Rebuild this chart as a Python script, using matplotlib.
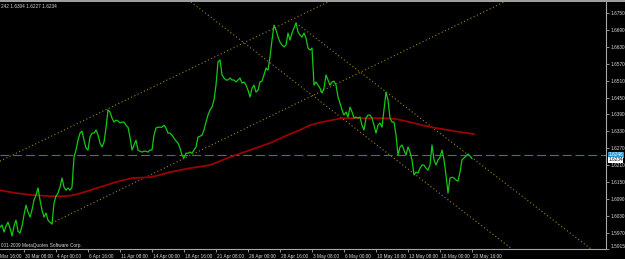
import matplotlib
matplotlib.use("Agg")
import matplotlib.pyplot as plt
from matplotlib import font_manager
from matplotlib.transforms import blended_transform_factory
from matplotlib.lines import Line2D

# ---------------- data ----------------
close_bars = list(range(0, 237))
close_prices = [
    1.5991, 1.5999, 1.5974, 1.5995, 1.6009, 1.5988, 1.5960, 1.5995, 1.6016, 1.5977,
    1.5970, 1.5995, 1.6034, 1.6069, 1.6045, 1.6027, 1.6052, 1.6087, 1.6105, 1.6130,
    1.6087, 1.6052, 1.6027, 1.6041, 1.6016, 1.6009, 1.6002, 1.6076, 1.6101, 1.6112,
    1.6133, 1.6165, 1.6133, 1.6122, 1.6130, 1.6122, 1.6133, 1.6239, 1.6264, 1.6299,
    1.6324, 1.6331, 1.6299, 1.6271, 1.6264, 1.6310, 1.6324, 1.6324, 1.6335, 1.6317,
    1.6289, 1.6275, 1.6292, 1.6342, 1.6406, 1.6399, 1.6377, 1.6363, 1.6370, 1.6367,
    1.6360, 1.6363, 1.6363, 1.6352, 1.6345, 1.6310, 1.6264, 1.6282, 1.6299, 1.6264,
    1.6260, 1.6257, 1.6260, 1.6260, 1.6257, 1.6264, 1.6264, 1.6317, 1.6342, 1.6345,
    1.6345, 1.6345, 1.6352, 1.6342, 1.6324, 1.6324, 1.6317, 1.6306, 1.6296, 1.6289,
    1.6271, 1.6246, 1.6236, 1.6253, 1.6253, 1.6257, 1.6253, 1.6264, 1.6275, 1.6310,
    1.6313, 1.6317, 1.6335, 1.6363, 1.6388, 1.6406, 1.6416, 1.6441, 1.6494, 1.6576,
    1.6583, 1.6530, 1.6519, 1.6512, 1.6512, 1.6519, 1.6512, 1.6512, 1.6505, 1.6512,
    1.6519, 1.6501, 1.6505, 1.6494, 1.6476, 1.6452, 1.6483, 1.6494, 1.6469, 1.6476,
    1.6505, 1.6508, 1.6530, 1.6554, 1.6547, 1.6593, 1.6653, 1.6706, 1.6689, 1.6664,
    1.6646, 1.6636, 1.6629, 1.6636, 1.6678, 1.6653, 1.6678, 1.6696, 1.6714, 1.6682,
    1.6671, 1.6664, 1.6678, 1.6660, 1.6625, 1.6618, 1.6625, 1.6494, 1.6505, 1.6494,
    1.6483, 1.6466, 1.6483, 1.6530, 1.6512, 1.6494, 1.6505, 1.6508, 1.6494, 1.6452,
    1.6430, 1.6406, 1.6388, 1.6399, 1.6381, 1.6416, 1.6399, 1.6377, 1.6381, 1.6377,
    1.6381, 1.6352, 1.6335, 1.6377, 1.6388, 1.6388, 1.6377, 1.6352, 1.6324, 1.6352,
    1.6360, 1.6345, 1.6406, 1.6469, 1.6441, 1.6377, 1.6363, 1.6363, 1.6317, 1.6246,
    1.6275, 1.6282, 1.6264, 1.6246, 1.6275, 1.6257, 1.6229, 1.6176, 1.6186, 1.6183,
    1.6200, 1.6211, 1.6211, 1.6200, 1.6193, 1.6211, 1.6282, 1.6229, 1.6211, 1.6229,
    1.6239, 1.6264, 1.6229, 1.6176, 1.6112, 1.6165, 1.6168, 1.6165, 1.6158, 1.6154,
    1.6186, 1.6229, 1.6236, 1.6243, 1.6250, 1.6243, 1.6234,
]

ma_bars = [0, 8, 16, 25, 33, 37, 42, 50, 58, 66, 75, 80, 85, 95, 105, 115, 125, 135,
           145, 150, 155, 161, 171, 181, 191, 198, 205, 211, 218, 224, 230, 237]
ma_prices = [1.6122, 1.6112, 1.6105, 1.6101, 1.6101, 1.6105, 1.6115, 1.6133, 1.6151,
             1.6165, 1.6168, 1.6176, 1.6186, 1.6200, 1.6211, 1.6239, 1.6264, 1.6289,
             1.6321, 1.6335, 1.6352, 1.6363, 1.6377, 1.6377, 1.6377, 1.6374, 1.6363,
             1.6352, 1.6342, 1.6335, 1.6328, 1.6321]

# channel lines: (bars, prices) anchor pairs
chan_up_upper = ([0, 164], [1.6225, 1.6788])
chan_up_lower = ([26, 252], [1.6006, 1.6788])
chan_dn_lower = ([95.5, 256], [1.6788, 1.5914])
chan_dn_upper = ([148, 295.5], [1.6714, 1.5914])

hline_price = 1.6246
hline_label = "1.6246"
last_price_label = "1.6234"

price_ticks = [1.6750, 1.6690, 1.6630, 1.6570, 1.6510, 1.6450, 1.6390, 1.6330,
               1.6270, 1.6210, 1.6150, 1.6090, 1.6030, 1.5970, 1.5915]
time_tick_bars = [-4, 12, 28, 44, 60, 76, 92, 108, 124, 140, 156, 172, 188, 204, 220, 236]
time_tick_labels = ["Mar 16:00", "30 Mar 08:00", "4 Apr 00:00", "6 Apr 16:00",
                    "11 Apr 08:00", "14 Apr 00:00", "18 Apr 16:00", "21 Apr 08:00",
                    "26 Apr 00:00", "28 Apr 16:00", "3 May 08:00", "6 May 00:00",
                    "10 May 16:00", "13 May 08:00", "18 May 00:00", "20 May 16:00"]
header_text = "242 1.6304 1.6227 1.6234"
copyright_text = "001-2009 MetaQuotes Software Corp."

# ---------------- style ----------------
names = {f.name for f in font_manager.fontManager.ttflist}
if "Liberation Sans Narrow" in names:
    FONT, FS = "Liberation Sans Narrow", 3.9
else:
    FONT, FS = "Liberation Sans", 3.4
TXT = "#d8d8d8"
AXC = "#a8a8a8"
GREEN = "#14c814"
RED = "#a00000"
GOLD = "#a08018"
BLUE = "#1a7fa8"

W, H = 625, 259
fig = plt.figure(figsize=(W / 100, H / 100), dpi=100, facecolor="black")
ax = fig.add_axes([0, 10 / H, 606 / W, 247 / H], facecolor="black")
ax.set_xlim(0, 303)
ax.set_ylim(1.5914, 1.6788)

for b, p in (chan_up_upper, chan_up_lower, chan_dn_lower, chan_dn_upper):
    ax.plot(b, p, color=GOLD, lw=0.8, ls=(0, (1, 2.2)))

ax.axhline(hline_price, color=BLUE, lw=0.8, ls=(0, (8, 3.5)))
ax.plot(ma_bars, ma_prices, color=RED, lw=1.25)
ax.plot(close_bars, close_prices, color=GREEN, lw=0.9)

# axes frame
for s in ("left", "top"):
    ax.spines[s].set_visible(False)
for s in ("right", "bottom"):
    ax.spines[s].set_color(AXC)
    ax.spines[s].set_linewidth(0.8)

ax.yaxis.tick_right()
ax.set_yticks(price_ticks)
ax.set_yticklabels([f"{v:.4f}" for v in price_ticks])
ax.tick_params(axis="y", direction="out", length=2.2, width=0.6, color=AXC,
               labelcolor=TXT, labelsize=FS, pad=0.8)
for lbl in ax.get_yticklabels():
    lbl.set_fontfamily(FONT)
# keep the lowest scale label inside the picture
ax.get_yticklabels()[-1].set_va("bottom")

inside = [b for b in time_tick_bars if b >= 0]
ax.set_xticks(inside)
ax.tick_params(axis="x", direction="out", length=2.2, width=0.6, color=AXC,
               labelbottom=False)

tr = blended_transform_factory(ax.transData, ax.transAxes)
for b, lab in zip(time_tick_bars, time_tick_labels):
    x = max(b + 0.6, 0.2)
    ax.text(x, -0.029, lab, transform=tr, ha="left", va="center", fontsize=FS,
            family=FONT, color=TXT, clip_on=False)

# price boxes on the scale
trr = blended_transform_factory(ax.transAxes, ax.transData)
ax.text(1.004, hline_price + 0.0002, hline_label, transform=trr, ha="left", va="center",
        fontsize=FS, family=FONT, color="white", clip_on=False,
        bbox=dict(boxstyle="square,pad=0.12", fc="#1e9ad6", ec="none"))
ax.text(1.004, 1.6230, last_price_label, transform=trr, ha="left", va="center",
        fontsize=FS, family=FONT, color="black", clip_on=False,
        bbox=dict(boxstyle="square,pad=0.08", fc="white", ec="none"))

fig.text(1 / W, 1 - 6.5 / H, header_text, ha="left", va="center", fontsize=FS,
         family=FONT, color=TXT)
fig.text(1 / W, 14 / H, copyright_text, ha="left", va="center", fontsize=FS,
         family=FONT, color=TXT)

fig.add_artist(Line2D([0, 1], [1 - 0.8 / H, 1 - 0.8 / H], transform=fig.transFigure,
                      color="#b0b0b0", lw=1.3))

fig.savefig("out.png", dpi=100, facecolor="black")
